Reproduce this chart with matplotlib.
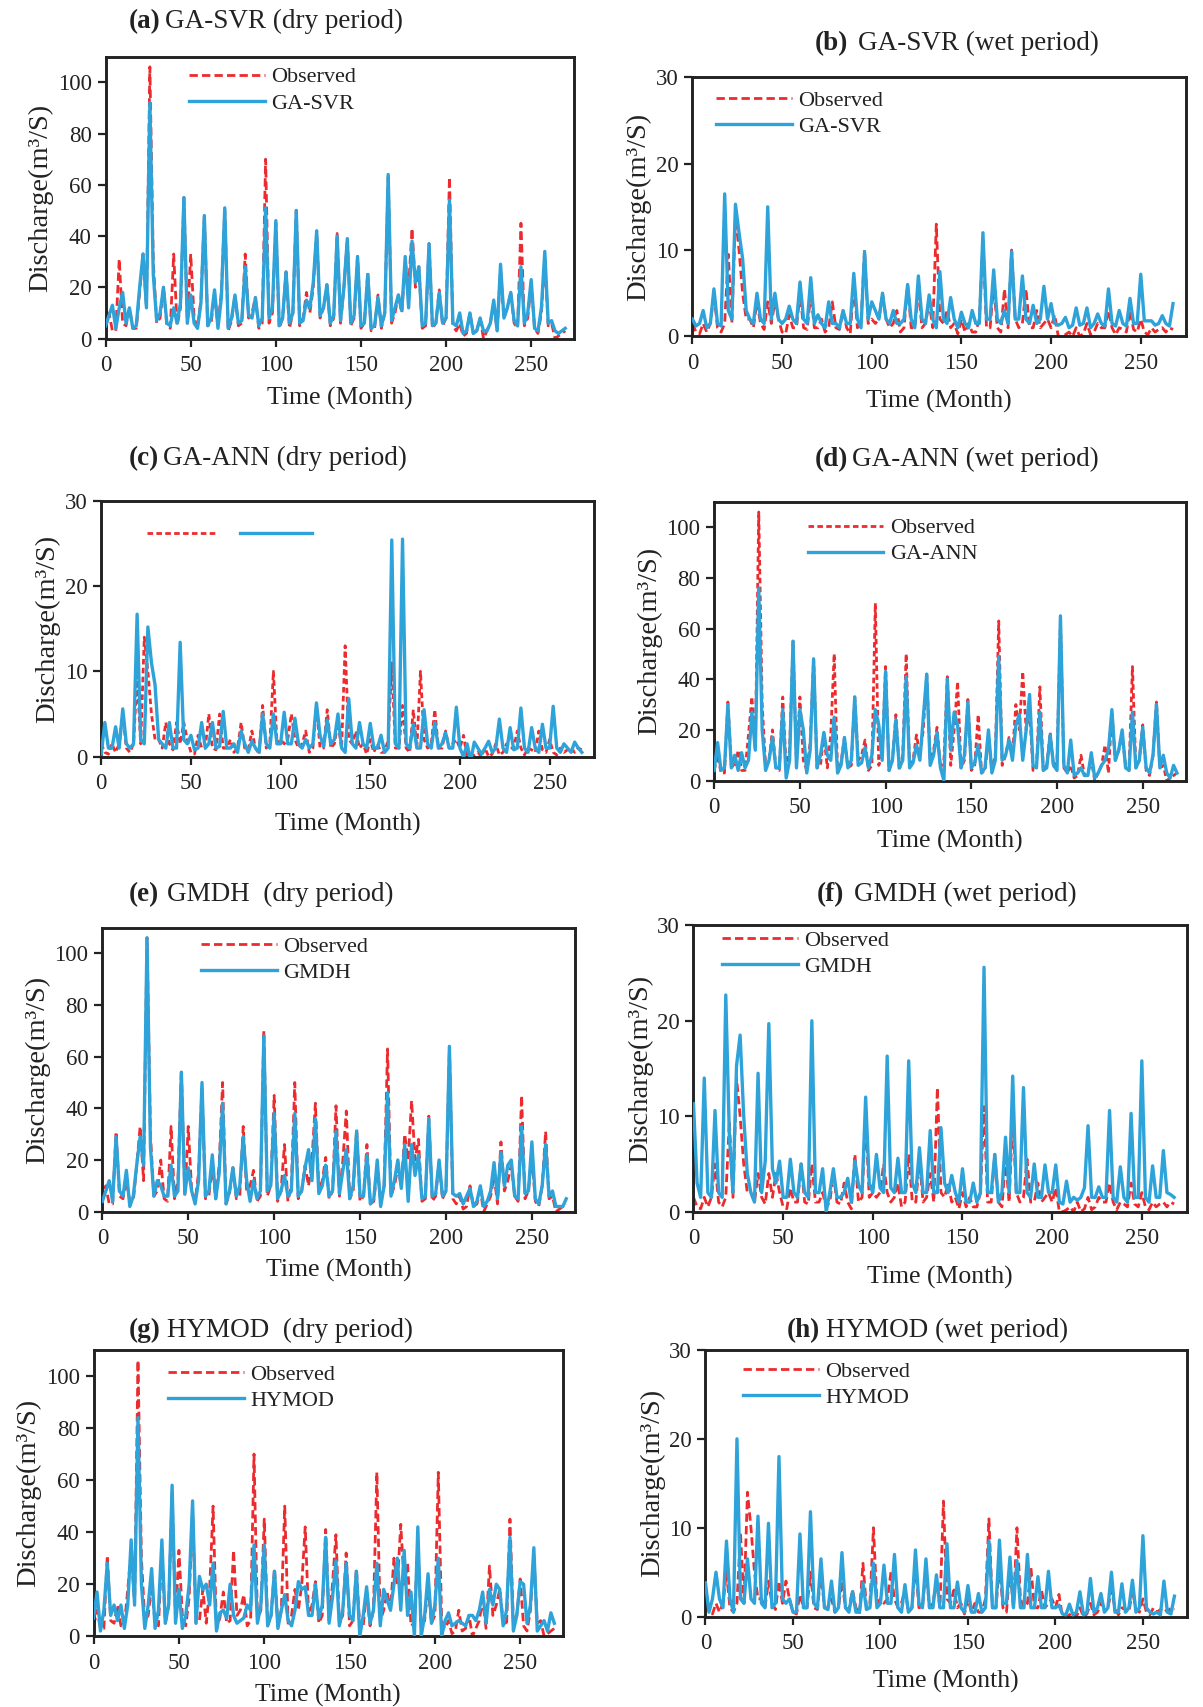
import numpy as np
import matplotlib
matplotlib.use("Agg")
import matplotlib.pyplot as plt
from matplotlib.lines import Line2D

plt.rcParams['font.family'] = ['Liberation Serif', 'DejaVu Serif']

# ---------------- data (2-month steps) ----------------
months_dry = list(range(0, 272, 2))   # 0..270
months_wet = list(range(0, 270, 2))   # 0..268

obs_dry = [4, 10, 3, 3, 31, 6, 5, 12, 4, 4,
           18, 33, 12, 106, 30, 6, 8, 20, 5, 4,
           33, 5, 12, 55, 6, 33, 8, 4, 15, 48,
           5, 6, 18, 5, 18, 50, 3, 7, 17, 5,
           6, 33, 8, 10, 16, 4, 6, 70, 6, 10,
           45, 4, 8, 26, 4, 10, 50, 5, 8, 18,
           10, 20, 42, 8, 12, 21, 5, 8, 41, 6,
           20, 39, 5, 8, 32, 4, 6, 26, 3, 4,
           17, 4, 10, 63, 6, 10, 17, 10, 30, 20,
           43, 20, 28, 4, 5, 37, 4, 6, 19, 5,
           8, 63, 5, 3, 6, 1, 2, 10, 2, 3,
           8, 0, 3, 6, 14, 3, 27, 8, 12, 18,
           6, 4, 45, 5, 8, 22, 4, 2, 10, 31,
           5, 6, 0, 1, 2, 3]

svr_dry = [5, 9, 13, 4, 12, 18, 6, 12, 4, 5,
           20, 33, 12, 92, 25, 7, 10, 20, 6, 5,
           12, 6, 14, 55, 6, 17, 6, 4, 14, 48,
           5, 8, 19, 4, 16, 51, 4, 8, 17, 6,
           7, 28, 9, 8, 16, 5, 8, 51, 8, 12,
           46, 5, 8, 26, 6, 10, 50, 6, 7, 15,
           12, 22, 42, 9, 12, 21, 6, 9, 40, 7,
           20, 39, 6, 9, 32, 5, 6, 25, 4, 5,
           16, 5, 10, 64, 7, 12, 17, 11, 32, 12,
           38, 22, 28, 5, 6, 37, 5, 6, 18, 6,
           8, 54, 6, 5, 10, 2, 3, 10, 2, 3,
           8, 3, 3, 6, 15, 3, 29, 8, 12, 18,
           7, 5, 28, 6, 10, 23, 4, 3, 12, 34,
           6, 7, 3, 2, 3, 4]

ann_dry = [4, 15, 4, 5, 30, 5, 10, 4, 11, 5,
           8, 27, 12, 76, 20, 4, 8, 17, 5, 5,
           28, 1, 8, 55, 5, 28, 20, 3, 12, 48,
           5, 10, 19, 10, 8, 25, 3, 6, 17, 5,
           8, 33, 6, 7, 13, 5, 10, 28, 22, 8,
           43, 4, 8, 24, 5, 8, 41, 5, 7, 14,
           8, 25, 42, 6, 10, 19, 5, 0, 40, 12,
           27, 22, 5, 10, 31, 5, 7, 14, 3, 5,
           20, 3, 8, 49, 8, 10, 16, 8, 22, 26,
           8, 20, 34, 6, 5, 27, 4, 5, 18, 6,
           4, 65, 6, 3, 16, 2, 3, 5, 2, 2,
           11, 1, 3, 6, 8, 12, 28, 8, 12, 20,
           5, 4, 27, 5, 8, 21, 5, 3, 10, 30,
           5, 10, 3, 1, 6, 3]

gmdh_dry = [4, 8, 12, 4, 29, 8, 6, 16, 2, 6,
            18, 29, 18, 106, 25, 6, 12, 10, 6, 6,
            18, 6, 8, 54, 7, 17, 8, 3, 12, 50,
            6, 8, 22, 5, 15, 42, 3, 8, 17, 6,
            10, 29, 12, 4, 12, 5, 8, 68, 8, 10,
            38, 5, 8, 14, 6, 8, 38, 6, 8, 17,
            24, 12, 36, 7, 10, 18, 6, 8, 31, 7,
            16, 24, 5, 10, 31, 6, 6, 22, 3, 5,
            20, 2, 10, 46, 6, 12, 20, 9, 26, 4,
            26, 14, 22, 5, 6, 36, 6, 7, 20, 6,
            8, 64, 7, 6, 7, 3, 6, 9, 2, 4,
            10, 2, 4, 8, 19, 5, 23, 10, 18, 20,
            6, 5, 33, 7, 8, 27, 5, 3, 10, 26,
            6, 8, 2, 2, 2, 5]

hymod_dry = [7, 17, 2, 10, 28, 8, 12, 6, 12, 3,
             12, 37, 12, 84, 20, 3, 12, 26, 3, 10,
             37, 5, 12, 58, 5, 18, 3, 8, 20, 52,
             5, 23, 18, 20, 12, 28, 2, 9, 10, 7,
             20, 8, 5, 6, 7, 12, 10, 35, 5, 12,
             35, 4, 8, 25, 3, 10, 16, 6, 4, 10,
             21, 18, 19, 8, 8, 20, 7, 12, 38, 5,
             15, 29, 4, 10, 28, 8, 6, 25, 0, 8,
             19, 5, 10, 28, 4, 18, 14, 10, 20, 30,
             10, 33, 8, 17, 0, 42, 0, 8, 24, 5,
             12, 30, 0, 6, 9, 4, 5, 6, 5, 4,
             8, 8, 6, 10, 17, 5, 18, 12, 20, 18,
             4, 10, 38, 2, 8, 21, 20, 5, 12, 34,
             2, 4, 6, 2, 9, 5]

obs_wet = [1.5, 0.5, 0.3, 1.5, 0.5, 1.5, 5, 1, 0.5, 1.5,
           9.5, 1.5, 14, 10, 5, 2, 2, 1, 4, 1.5,
           0.8, 4, 1.5, 4, 2, 0.5, 0.3, 2.5, 1, 1,
           5, 1, 0.8, 5, 1, 1, 2, 0.5, 1, 4,
           1, 0.8, 3, 1, 0.3, 6, 1, 1.5, 10, 1.5,
           2, 1.5, 2, 5, 2, 1, 1.5, 3, 0.5, 1,
           6, 1, 1, 5.5, 1, 1.5, 4, 1, 13, 2,
           1.5, 3, 1, 1.5, 0.3, 2, 0.5, 1.5, 0.5, 0.5,
           2, 11, 1, 1, 6, 1, 0.5, 5.5, 1, 10,
           2, 1, 1.5, 5.5, 1, 1, 3, 1, 1.5, 2,
           1, 2.5, 0, 0, 0.2, 0.5, 0, 1, 0, 0.3,
           1.5, 0.2, 0.5, 1.5, 1, 1, 3, 1, 0.2, 1,
           0.8, 0.5, 3, 0.8, 0.5, 2, 0.5, 0.2, 1, 0.5,
           0.8, 1, 0.5, 1, 0.8]

svr_wet = [2, 1.2, 1.5, 3, 1, 1.5, 5.5, 1.5, 1.2, 16.5,
           3, 2, 15.3, 12, 9, 3, 2, 1.5, 5, 2,
           1.5, 15, 2, 5, 2, 1.5, 2, 3.5, 2, 1.5,
           6.3, 2, 1.5, 6.8, 1.5, 2.5, 1.5, 1, 4, 1.5,
           1.5, 1, 3, 1.5, 1.5, 7.3, 2, 1, 9.8, 2,
           4, 3, 2, 5, 2, 1.5, 3, 1.5, 1.5, 2,
           6, 2, 1, 7, 2, 1.5, 4.8, 2, 1, 7.5,
           2, 1.5, 4.5, 2, 1, 2.8, 1.5, 1, 3, 1.5,
           1.5, 12, 2, 2, 7.7, 2, 1.5, 3, 1.5, 9.8,
           2, 2, 7, 2, 1.5, 3.6, 1.5, 2, 5.8, 2,
           3.8, 1.5, 1.3, 1.5, 2.2, 1, 1.3, 3.3, 1.3, 1.5,
           3.3, 1, 1.5, 2.6, 1.5, 1.2, 5.5, 1.5, 1.2, 3,
           1.5, 1.2, 4.4, 1.5, 1.5, 7.2, 1.8, 1.8, 1.8, 1.3,
           1.5, 2.4, 1.5, 1.2, 3.8]

ann_wet = [0.3, 4, 1, 1, 3.5, 1, 5.6, 1.5, 1, 1.5,
           16.7, 2, 1.5, 15.2, 11, 8.4, 2, 1.5, 1, 4,
           1, 1, 13.4, 2, 1.5, 2.5, 0.8, 1, 4, 1,
           1.5, 4, 1, 1.2, 5.3, 1, 1, 1.5, 0.5, 3,
           1.5, 0.5, 1.8, 1, 0.5, 5, 1.5, 1, 5, 1.5,
           1.5, 5.2, 1.5, 1.5, 4.5, 1.5, 1, 2, 1, 1.5,
           6.3, 2.5, 1.2, 4.3, 1.5, 2, 5, 1, 0.5, 6.8,
           1.5, 1, 4, 1.5, 1, 3.9, 1, 1, 2.5, 0.5,
           1, 25.4, 1.5, 1, 25.5, 1.5, 1, 3.8, 1, 1,
           5.5, 1.5, 1, 4, 1, 1.5, 2.8, 1, 1, 5.8,
           1, 0, 1.5, -0.5, 1.7, 1, 0.3, 1, 1.8, 0.5,
           1, 4.4, 1, 0.5, 3.4, 0.8, 1, 5.7, 1, 0.5,
           3.4, 1, 0.5, 3.8, 1, 1, 5.9, 1, 0.5, 1.5,
           1, 0.5, 1.7, 1, 0.5]

gmdh_wet = [11.3, 3, 1.5, 14, 2, 1.5, 10.6, 2, 1.5, 22.7,
            8, 2, 15.3, 18.5, 10, 4, 2, 1, 14.5, 2,
            5.3, 19.7, 4.5, 3, 5.3, 1.5, 1.5, 5.5, 2, 1.5,
            5, 2, 1.5, 20, 2, 2, 4.5, 0, 2, 4.5,
            1.5, 1.5, 2, 3.5, 1, 5.3, 2.8, 2, 12, 3,
            2, 6, 2.5, 2, 16.3, 2.5, 2, 5.6, 2, 2,
            15.8, 3, 2, 6.7, 2, 2, 8.5, 2, 2, 8.8,
            3, 2, 3.8, 2, 1, 4.5, 1, 1, 3, 1,
            2, 25.6, 2, 2, 6, 1, 2, 7.8, 2, 14.2,
            2, 2, 13, 2, 1.5, 5, 1.5, 1.5, 4.9, 2,
            2, 4.9, 1, 0.8, 3.2, 1, 1.5, 1.2, 1.5, 2.5,
            9, 1.5, 1.5, 2.6, 1.5, 1.5, 10.6, 1.5, 1, 4.7,
            1.5, 1, 10.3, 1.5, 1.5, 15.8, 1.5, 1, 4.8, 1.5,
            1.5, 6.4, 2, 1.8, 1.5]

hymod_wet = [3.8, 0.5, 2, 5, 2, 1, 8.5, 2, 0.5, 20,
             2, 1.5, 6.5, 2, 1.5, 11.3, 1.5, 1, 10.5, 1,
             1.5, 18, 2, 1.5, 2, 0.5, 0.5, 9.3, 1, 1,
             11.8, 1.5, 1, 6.5, 1, 0.8, 4, 0.5, 1, 7.2,
             1, 0.5, 2.8, 0.5, 0.5, 3.8, 0.8, 1, 6, 1,
             1.5, 5.8, 1.5, 1.5, 7, 1, 0.5, 3.6, 0.5, 1,
             7.5, 1.5, 1, 6.5, 1, 1, 4.7, 1, 1, 8.2,
             1, 1, 3.9, 1, 0.5, 3.5, 0.5, 0.5, 2.6, 0.5,
             1, 8.5, 1, 1, 8.6, 1.5, 1.5, 6.7, 1, 6.3,
             1, 1, 7, 1, 1, 4.5, 1, 1, 5.1, 1,
             1, 1.3, 0.3, 0.2, 1.4, 0.2, 0.5, 2.8, 0.2, 0.5,
             4.3, 0.5, 1, 2.6, 0.5, 1, 5, 0.5, 0.5, 3.7,
             0.5, 1, 4.1, 0.5, 1, 9.1, 1, 0.5, 0.3, 0.5,
             0.2, 4, 0.5, 0.3, 2.3]

x_ticks = [0, 50, 100, 150, 200, 250]

# ---------------- layout ----------------
W, H = 1105.0, 1568.0
RED = '#ec2b2f'
BLUE = '#2ea3d9'
INK = '#222222'
DASH = (0, (3, 1.5))
FINE = (0, (2, 1.2))

panels = [
    # letter, name, months, obs, model, model name, ytop, yticks, box(l,r,t,b),
    # title(x_letter, x_rest, y), legend anchor, show labels, dash, xlabel pad
    ('(a)', 'GA-SVR (dry period)', months_dry, obs_dry, svr_dry, 'GA-SVR', 110, [0, 20, 40, 60, 80, 100],
     (97, 527, 52, 311), (118, 152, 20), (0.16, 0.995), True, DASH, 7.8),
    ('(b)', 'GA-SVR (wet period)', months_wet, obs_wet, svr_wet, 'GA-SVR', 30, [0, 10, 20, 30],
     (636, 1089, 71, 309), (748, 788, 40), (0.03, 0.985), True, DASH, 11.4),
    ('(c)', 'GA-ANN (dry period)', months_wet, obs_wet, ann_wet, '', 30, [0, 10, 20, 30],
     (93, 546, 460, 695), (118, 150, 421), (0.075, 0.94), False, FINE, 13.5),
    ('(d)', 'GA-ANN (wet period)', months_dry, obs_dry, ann_dry, 'GA-ANN', 110, [0, 20, 40, 60, 80, 100],
     (656, 1089, 461, 717), (748, 783, 422), (0.18, 0.975), True, FINE, 8.5),
    ('(e)', 'GMDH  (dry period)', months_dry, obs_dry, gmdh_dry, 'GMDH', 110, [0, 20, 40, 60, 80, 100],
     (94, 528, 852, 1113), (118, 153, 822), (0.19, 1.0), True, DASH, 7.0),
    ('(f)', 'GMDH (wet period)', months_wet, obs_wet, gmdh_wet, 'GMDH', 30, [0, 10, 20, 30],
     (637, 1090, 850, 1113), (750, 784, 822), (0.04, 1.015), True, DASH, 12.1),
    ('(g)', 'HYMOD  (dry period)', months_dry, obs_dry, hymod_dry, 'HYMOD', 110, [0, 20, 40, 60, 80, 100],
     (86, 517, 1240, 1503), (118, 153, 1222), (0.14, 0.98), True, DASH, 7.5),
    ('(h)', 'HYMOD (wet period)', months_wet, obs_wet, hymod_wet, 'HYMOD', 30, [0, 10, 20, 30],
     (648, 1090, 1240, 1485), (723, 759, 1222), (0.06, 0.99), True, DASH, 11.4),
]

fig = plt.figure(figsize=(12.03, 17.07), dpi=100)

for (letter, name, months, obs, mod, mname, ytop, yticks, box, tpos, lpos,
     showlab, dash, xpad) in panels:
    l, r, t, b = box
    ax = fig.add_axes([l / W, 1 - b / H, (r - l) / W, (b - t) / H])
    ax.plot(months, obs, color=RED, ls=dash, lw=2.0, zorder=2)
    ax.plot(months, mod, color=BLUE, lw=2.4, zorder=3)
    ax.set_xlim(0, 275)
    ax.set_ylim(0, ytop)
    ax.set_xticks(x_ticks)
    ax.set_yticks(yticks)
    ax.tick_params(axis='both', direction='out', length=6, width=1.6, labelsize=16.5, pad=4,
                   colors=INK)
    ax.tick_params(axis='x', pad=6)
    for s in ax.spines.values():
        s.set_linewidth(2.1)
        s.set_color(INK)
    ax.set_xlabel('Time (Month)', fontsize=18.5, labelpad=xpad, color=INK)
    ax.set_ylabel('Discharge(m³/S)', fontsize=20.5, labelpad=3, color=INK)

    h_obs = Line2D([], [], color=RED, ls=dash, lw=2.0)
    h_mod = Line2D([], [], color=BLUE, lw=2.4)
    if showlab:
        leg = ax.legend([h_obs, h_mod], ['Observed', mname], loc='upper left',
                        bbox_to_anchor=lpos, frameon=False, fontsize=16,
                        handlelength=3.4, handletextpad=0.3, labelspacing=0.25,
                        borderaxespad=0.0)
    else:
        leg = ax.legend([h_obs, h_mod], ['', ''], loc='upper left', ncol=2,
                        bbox_to_anchor=lpos, frameon=False, fontsize=16,
                        handlelength=3.2, handletextpad=0.0, columnspacing=1.0,
                        borderaxespad=0.0)
    for txt in leg.get_texts():
        txt.set_color(INK)

    xl, xr, ty = tpos
    fig.text(xl / W, 1 - ty / H, letter, fontsize=19.5, fontweight='bold',
             ha='left', va='center', color=INK)
    fig.text(xr / W, 1 - ty / H, name, fontsize=19.5, ha='left', va='center',
             color=INK)

fig.savefig('out.png', dpi=100)
